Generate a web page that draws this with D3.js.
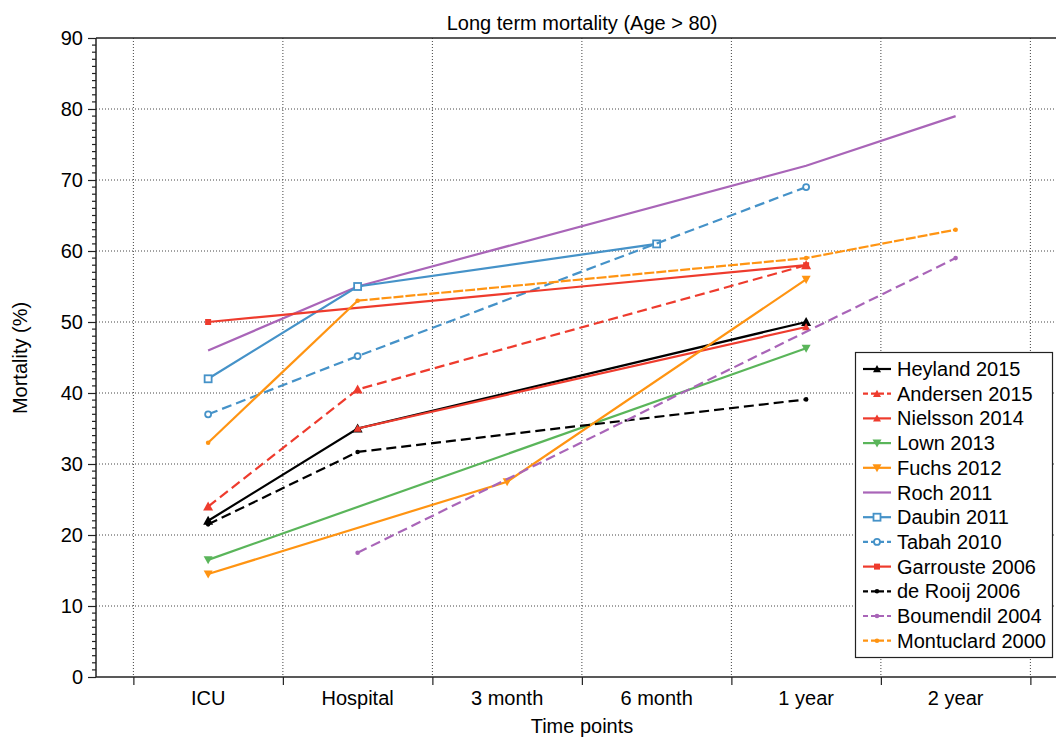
<!DOCTYPE html>
<html><head><meta charset="utf-8">
<script src="https://cdn.jsdelivr.net/npm/d3@7"></script>
<style>body{margin:0;background:#fff;} svg{display:block;font-family:"Liberation Sans",Arial,Helvetica,sans-serif;}</style>
</head><body>
<svg id="c" width="1056" height="737"></svg>
<script>
const categories = ["ICU","Hospital","3 month","6 month","1 year","2 year"];
const yTicks = [0,10,20,30,40,50,60,70,80,90];
const seriesNames = ["Heyland 2015","Andersen 2015","Nielsson 2014","Lown 2013","Fuchs 2012","Roch 2011","Daubin 2011","Tabah 2010","Garrouste 2006","de Rooij 2006","Boumendil 2004","Montuclard 2000"];
const heyland    = [22, 35, null, null, 50, null];
const andersen   = [24, 40.5, null, null, 58, null];
const nielsson   = [null, 35, null, null, 49.3, null];
const lown       = [16.5, null, null, null, 46.3, null];
const fuchs      = [14.5, null, 27.5, null, 56, null];
const roch       = [46, 55, null, null, 72, 79];
const daubin     = [42, 55, null, 61, null, null];
const tabah      = [37, 45.2, null, null, 69, null];
const garrouste  = [50, null, null, null, 58, null];
const deRooij    = [21.5, 31.7, null, null, 39.1, null];
const boumendil  = [null, 17.5, null, null, null, 59];
const montuclard = [33, 53, null, null, 59, 63];
const seriesValues = [heyland, andersen, nielsson, lown, fuchs, roch, daubin, tabah, garrouste, deRooij, boumendil, montuclard];

// styles
const C = {black:"#000000", red:"#ee3b2d", green:"#5ab55a", orange:"#ff9412", purple:"#a965b8", blue:"#4592c8"};
const DASH = "10,5";
const styles = [
  {color:C.black, dash:null, marker:"triUp"},
  {color:C.red, dash:DASH, marker:"triUp"},
  {color:C.red, dash:null, marker:"triUpSmall"},
  {color:C.green, dash:null, marker:"triDown"},
  {color:C.orange, dash:null, marker:"triDown"},
  {color:C.purple, dash:null, marker:"none"},
  {color:C.blue, dash:null, marker:"square"},
  {color:C.blue, dash:DASH, marker:"circle"},
  {color:C.red, dash:null, marker:"squareSmall"},
  {color:C.black, dash:DASH, marker:"dot"},
  {color:C.purple, dash:DASH, marker:"dot"},
  {color:C.orange, dash:"10,2", marker:"dot", firstSolid:true}
];

const svg = d3.select("#c");
const mLeft = 96, mTop = 38, mBottom = 677;
const FS = 20;
const x = d3.scaleLinear().domain([0.25, 6.75]).range([mLeft, mLeft + 6.5*149.5]);
const y = d3.scaleLinear().domain([0, 90]).range([mBottom, mTop]);

// grid
const grid = svg.append("g");
grid.selectAll("line.h").data(yTicks.filter(d=>d>0&&d<90)).join("line")
  .attr("x1", mLeft).attr("x2", 1056).attr("y1", d=>y(d)).attr("y2", d=>y(d))
  .attr("stroke","#444").attr("stroke-width",1).attr("stroke-dasharray","1,2");
const xGridVals = d3.range(0.5, 7, 1);
grid.selectAll("line.v").data(xGridVals).join("line")
  .attr("x1", d=>x(d)).attr("x2", d=>x(d)).attr("y1", mTop).attr("y2", mBottom)
  .attr("stroke","#444").attr("stroke-width",1).attr("stroke-dasharray","1,2");

// axes
const yAxis = d3.axisLeft(y).tickValues(yTicks).tickSize(8).tickPadding(5);
const gy = svg.append("g").attr("transform",`translate(${mLeft},0)`).call(yAxis);
gy.select(".domain").remove();
gy.selectAll("text").attr("font-size",FS).attr("fill","#000").attr("font-family","Liberation Sans, Arial, sans-serif");
gy.selectAll("line").attr("stroke","#222").attr("stroke-width",1.2);
const minor = d3.range(0, 91, 1).filter(d=>d%10!==0);
svg.append("g").selectAll("line").data(minor).join("line")
  .attr("x1", mLeft-4).attr("x2", mLeft).attr("y1", d=>y(d)).attr("y2", d=>y(d))
  .attr("stroke","#222").attr("stroke-width",1.2);

const xAxisTicks = d3.axisBottom(x).tickValues(xGridVals).tickSize(8).tickFormat("");
const gx = svg.append("g").attr("transform",`translate(0,${mBottom})`).call(xAxisTicks);
gx.select(".domain").remove();
gx.selectAll("line").attr("stroke","#222").attr("stroke-width",1.2);
svg.append("g").selectAll("text").data(categories).join("text")
  .attr("x",(d,i)=>x(i+1)).attr("y",705).attr("text-anchor","middle")
  .attr("font-size",FS).attr("fill","#000").text(d=>d);

// frame
svg.append("line").attr("x1",mLeft).attr("x2",1056).attr("y1",mBottom).attr("y2",mBottom).attr("stroke","#222").attr("stroke-width",1.5);
svg.append("line").attr("x1",mLeft).attr("x2",1056).attr("y1",mTop).attr("y2",mTop).attr("stroke","#222").attr("stroke-width",1.5);
svg.append("line").attr("x1",mLeft).attr("x2",mLeft).attr("y1",mTop).attr("y2",mBottom).attr("stroke","#222").attr("stroke-width",1.5);

// titles
svg.append("text").attr("x",582).attr("y",30).attr("text-anchor","middle").attr("font-size",FS).text("Long term mortality (Age > 80)");
svg.append("text").attr("x",582).attr("y",733).attr("text-anchor","middle").attr("font-size",FS).text("Time points");
svg.append("text").attr("transform","translate(27,358) rotate(-90)").attr("text-anchor","middle").attr("font-size",FS).text("Mortality (%)");

function drawMarker(g, type, cx, cy, color){
  if(type==="none") return;
  if(type==="triUp" || type==="triUpSmall"){
    const s = type==="triUp"?5:4;
    g.append("path").attr("d",`M${cx},${cy-s}L${cx+s},${cy+s*0.8}L${cx-s},${cy+s*0.8}Z`).attr("fill",color);
  } else if(type==="triDown"){
    const s=4.5;
    g.append("path").attr("d",`M${cx},${cy+s}L${cx+s},${cy-s*0.8}L${cx-s},${cy-s*0.8}Z`).attr("fill",color);
  } else if(type==="square"){
    g.append("rect").attr("x",cx-3.5).attr("y",cy-3.5).attr("width",7).attr("height",7).attr("fill","#fff").attr("stroke",color).attr("stroke-width",1.8);
  } else if(type==="squareSmall"){
    g.append("rect").attr("x",cx-3).attr("y",cy-3).attr("width",6).attr("height",6).attr("fill",color);
  } else if(type==="circle"){
    g.append("circle").attr("cx",cx).attr("cy",cy).attr("r",3).attr("fill","#fff").attr("stroke",color).attr("stroke-width",1.8);
  } else if(type==="dot"){
    g.append("circle").attr("cx",cx).attr("cy",cy).attr("r",2.3).attr("fill",color);
  }
}

const line = d3.line().x(d=>x(d.i+1)).y(d=>y(d.v));
const plot = svg.append("g");
seriesValues.forEach((vals,k)=>{
  const pts = vals.map((v,i)=>({i,v})).filter(d=>d.v!==null);
  const st = styles[k];
  const g = plot.append("g");
  if(st.firstSolid){
    g.append("path").datum(pts.slice(0,2)).attr("d",line).attr("fill","none")
      .attr("stroke",st.color).attr("stroke-width",2.2);
    g.append("path").datum(pts.slice(1)).attr("d",line).attr("fill","none")
      .attr("stroke",st.color).attr("stroke-width",2.2).attr("stroke-dasharray",st.dash);
  } else {
    g.append("path").datum(pts).attr("d",line).attr("fill","none")
      .attr("stroke",st.color).attr("stroke-width",2.2)
      .attr("stroke-dasharray",st.dash);
  }
  pts.forEach(p=>drawMarker(g, st.marker, x(p.i+1), y(p.v), st.color));
});

// legend
const lg = svg.append("g");
lg.append("rect").attr("x",855.5).attr("y",352.5).attr("width",197).attr("height",305)
  .attr("fill","#fff").attr("stroke","#222").attr("stroke-width",1.2);
seriesNames.forEach((name,k)=>{
  const st = styles[k];
  const yy = 369 + k*24.7;
  lg.append("line").attr("x1",863).attr("x2",891).attr("y1",yy).attr("y2",yy)
    .attr("stroke",st.color).attr("stroke-width",2.2).attr("stroke-dasharray",st.dash?"5,3":null);
  drawMarker(lg, st.marker==="triUp"?"triUpSmall":st.marker, 877, yy, st.color);
  lg.append("text").attr("x",897).attr("y",yy+7).attr("font-size",FS).attr("fill","#000").text(name);
});
</script>
</body></html>
